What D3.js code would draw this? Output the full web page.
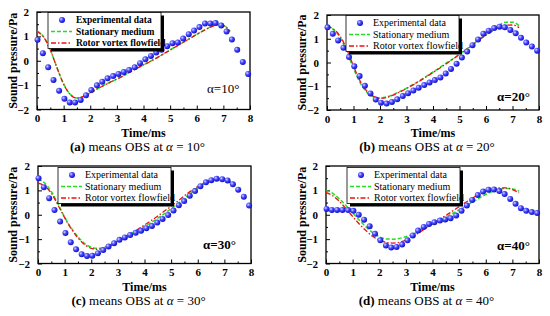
<!DOCTYPE html>
<html>
<head>
<meta charset="utf-8">
<script src="https://cdn.jsdelivr.net/npm/d3@7"></script>
<style>
  body { margin: 0; background: #fff; }
  svg { display: block; font-family: "Liberation Serif", "Times New Roman", serif; }
</style>
</head>
<body>
<div id="chart"></div>
<script>
// experimental sample times (ms), shared by all panels
var expTime = [0.02,0.22,0.42,0.62,0.83,1.03,1.23,1.43,1.64,1.84,2.04,2.25,2.45,2.65,2.86,3.06,3.26,3.46,3.67,3.87,
               4.07,4.28,4.48,4.68,4.89,5.09,5.29,5.49,5.70,5.90,6.10,6.31,6.51,6.71,6.92,7.12,7.32,7.52,7.73,7.93];
// simulation times (ms)
var simTime = [0,0.25,0.5,0.75,1.0,1.25,1.5,1.75,2.0,2.25,2.5,2.75,3.0,3.25,3.5,3.75,4.0,4.25,4.5,4.75,
               5.0,5.25,5.5,5.75,6.0,6.25,6.5,6.75,7.0,7.25];

var expA = [0.86,0.31,-0.27,-0.79,-1.23,-1.56,-1.71,-1.71,-1.61,-1.42,-1.2,-1.01,-0.86,-0.72,-0.63,-0.54,-0.46,-0.38,-0.27,-0.1,
            0.06,0.2,0.34,0.45,0.6,0.72,0.75,0.91,1.09,1.24,1.38,1.53,1.53,1.55,1.45,1.2,0.87,0.45,-0.05,-0.54];
var greenA = [1.22,0.98,0.45,-0.28,-0.95,-1.38,-1.53,-1.46,-1.32,-1.16,-1.01,-0.88,-0.75,-0.61,-0.46,-0.31,-0.17,-0.03,0.12,0.28,
              0.45,0.6,0.76,0.92,1.08,1.24,1.38,1.48,1.45,1.22];
var redA = [1.2,0.97,0.44,-0.29,-0.96,-1.39,-1.53,-1.46,-1.32,-1.16,-1.02,-0.88,-0.75,-0.61,-0.46,-0.31,-0.17,-0.03,0.12,0.28,
            0.44,0.6,0.76,0.92,1.08,1.23,1.37,1.47,1.44,1.2];

var expB = [1.48,1.21,0.93,0.62,0.23,-0.16,-0.57,-0.98,-1.3,-1.56,-1.69,-1.73,-1.66,-1.55,-1.41,-1.29,-1.18,-1.06,-0.95,-0.84,
            -0.74,-0.63,-0.46,-0.27,-0.05,0.21,0.46,0.73,0.97,1.21,1.34,1.45,1.51,1.48,1.37,1.23,1.04,0.84,0.67,0.5];
var greenB = [1.55,1.38,1.05,0.45,-0.25,-0.85,-1.25,-1.44,-1.5,-1.45,-1.35,-1.22,-1.08,-0.92,-0.76,-0.58,-0.4,-0.22,-0.03,0.15,
              0.35,0.55,0.76,0.98,1.18,1.38,1.58,1.7,1.7,1.55];
var redB = [1.52,1.4,1.1,0.55,-0.15,-0.78,-1.2,-1.42,-1.5,-1.47,-1.37,-1.24,-1.1,-0.94,-0.78,-0.6,-0.42,-0.24,-0.05,0.14,
            0.34,0.54,0.75,0.96,1.15,1.33,1.48,1.57,1.58,1.47];

var expC = [1.5,1.13,0.68,0.19,-0.28,-0.75,-1.13,-1.42,-1.62,-1.69,-1.68,-1.58,-1.45,-1.3,-1.17,-1.03,-0.93,-0.83,-0.74,-0.66,
            -0.55,-0.46,-0.32,-0.17,-0.01,0.17,0.39,0.56,0.78,0.97,1.17,1.33,1.42,1.48,1.46,1.41,1.25,1.03,0.74,0.38];
var greenC = [1.46,1.3,0.95,0.45,-0.1,-0.55,-0.9,-1.18,-1.33,-1.38,-1.33,-1.22,-1.08,-0.92,-0.77,-0.62,-0.48,-0.32,-0.14,0.05,
              0.25,0.46,0.68,0.9,1.1,1.28,1.42,1.48,1.46,1.35];
var redC = [1.3,1.18,0.88,0.4,-0.12,-0.58,-0.95,-1.22,-1.38,-1.42,-1.37,-1.25,-1.1,-0.94,-0.78,-0.6,-0.42,-0.24,-0.05,0.15,
            0.35,0.56,0.78,0.98,1.16,1.3,1.4,1.45,1.43,1.27];

var expD = [0.24,0.2,0.2,0.2,0.19,0.16,0.0,-0.2,-0.47,-0.78,-1.05,-1.26,-1.34,-1.32,-1.22,-1.05,-0.85,-0.65,-0.5,-0.38,
            -0.31,-0.24,-0.19,-0.14,-0.03,0.16,0.38,0.61,0.81,0.95,1.03,1.04,0.97,0.85,0.65,0.45,0.27,0.16,0.11,0.07];
var greenD = [0.99,0.88,0.65,0.38,0.08,-0.22,-0.5,-0.73,-0.9,-0.99,-1.0,-0.97,-0.9,-0.8,-0.67,-0.53,-0.38,-0.25,-0.1,0.05,
              0.2,0.36,0.52,0.68,0.83,0.95,1.04,1.08,1.06,0.97];
var redD = [0.92,0.78,0.55,0.25,-0.07,-0.38,-0.65,-0.88,-1.04,-1.13,-1.16,-1.13,-1.04,-0.9,-0.73,-0.55,-0.36,-0.2,-0.03,0.15,
            0.33,0.51,0.68,0.84,0.97,1.06,1.1,1.1,1.03,0.9];

var xTicks = [0,1,2,3,4,5,6,7,8];
var yTicks = [-2,-1,0,1,2];
var legendLabels = ["Experimental data", "Stationary medium", "Rotor vortex flowfield"];
var panelLetters = ["a","b","c","d"];
var angles = ["10", "20", "30", "40"];

var FONT = "'Liberation Serif', 'Times New Roman', serif";

var svg = d3.select("#chart").append("svg")
  .attr("width", 550).attr("height", 316)
  .attr("font-family", FONT);

var defs = svg.append("defs");
var grad = defs.append("radialGradient").attr("id", "ball")
  .attr("cx", "35%").attr("cy", "35%").attr("r", "65%");
grad.append("stop").attr("offset", "0%").attr("stop-color", "#d8d8ff");
grad.append("stop").attr("offset", "45%").attr("stop-color", "#4a4aff");
grad.append("stop").attr("offset", "100%").attr("stop-color", "#1010c8");

var panels = [
  {box: [37, 250, 12, 109.5], exp: expA, green: greenA, red: redA, legX: 11, legBold: true, alphaBold: false, alphaX: 207, alphaY: 93, yLabX: 13},
  {box: [327, 539, 15, 110], exp: expB, green: greenB, red: redB, legX: 19, legBold: false, alphaBold: true, alphaX: 497, alphaY: 101, yLabX: 302},
  {box: [38, 251, 166, 263.5], exp: expC, green: greenC, red: redC, legX: 20, legBold: false, alphaBold: true, alphaX: 203, alphaY: 249, yLabX: 13},
  {box: [326, 539, 166, 263.5], exp: expD, green: greenD, red: redD, legX: 21, legBold: false, alphaBold: true, alphaX: 497, alphaY: 250, yLabX: 302}
];

panels.forEach(function(p, i) {
  var x0 = p.box[0], x1 = p.box[1], y0 = p.box[2], y1 = p.box[3];
  var xScale = d3.scaleLinear().domain([0, 8]).range([x0, x1]);
  var yScale = d3.scaleLinear().domain([-2, 2]).range([y1, y0]);
  var g = svg.append("g");

  // minor ticks
  g.append("g").attr("transform", `translate(0,${y1})`)
    .call(d3.axisBottom(xScale).tickValues(d3.range(0.5, 8, 1)).tickSize(-2).tickFormat(""))
    .call(a => a.select(".domain").remove());
  g.append("g").attr("transform", `translate(${x0},0)`)
    .call(d3.axisLeft(yScale).tickValues([-1.5,-0.5,0.5,1.5]).tickSize(-2).tickFormat(""))
    .call(a => a.select(".domain").remove());

  var xAxis = g.append("g").attr("transform", `translate(0,${y1})`)
    .call(d3.axisBottom(xScale).tickValues(xTicks).tickSize(-4).tickPadding(5).tickFormat(d3.format("d")));
  var yAxis = g.append("g").attr("transform", `translate(${x0},0)`)
    .call(d3.axisLeft(yScale).tickValues(yTicks).tickSize(-4).tickPadding(8).tickFormat(d => d < 0 ? "\u2212" + (-d) : d));
  [xAxis, yAxis].forEach(function(a) {
    a.select(".domain").remove();
    a.attr("font-family", FONT).attr("font-size", 11).attr("font-weight", "bold");
    a.selectAll("text").attr("fill", "#000");
    a.selectAll("line").attr("stroke", "#000").attr("stroke-width", 1);
  });
  g.selectAll(".tick line").attr("stroke", "#000");

  // frame
  g.append("rect").attr("x", x0).attr("y", y0).attr("width", x1 - x0).attr("height", y1 - y0)
    .attr("fill", "none").attr("stroke", "#000").attr("stroke-width", 1.3);

  // simulation lines
  var line = d3.line().x((d, k) => xScale(simTime[k])).y(d => yScale(d)).curve(d3.curveMonotoneX);
  g.append("path").datum(p.green).attr("d", line)
    .attr("fill", "none").attr("stroke", "#22e022").attr("stroke-width", 1.5).attr("stroke-dasharray", "4,2");
  g.append("path").datum(p.red).attr("d", line)
    .attr("fill", "none").attr("stroke", "#ee1111").attr("stroke-width", 1.3).attr("stroke-dasharray", "5,2,1.5,2");

  // experimental points
  g.selectAll("circle.exp").data(p.exp).enter().append("circle")
    .attr("class", "exp")
    .attr("cx", (d, k) => xScale(expTime[k]))
    .attr("cy", d => yScale(d))
    .attr("r", 3)
    .attr("fill", "url(#ball)");

  // legend
  var lx = x0 + p.legX, ly = y0 + (i < 2 ? 0.5 : 1.5);
  var lw = 113, lh = 36;
  g.append("rect").attr("x", lx + 3).attr("y", ly + 3).attr("width", lw).attr("height", lh).attr("fill", "#000");
  g.append("rect").attr("x", lx).attr("y", ly).attr("width", lw).attr("height", lh)
    .attr("fill", "#fff").attr("stroke", "#000").attr("stroke-width", 0.8);
  var rows = [ly + 7.5, ly + 19, ly + 30.5];
  g.append("circle").attr("cx", lx + 14).attr("cy", rows[0]).attr("r", 3).attr("fill", "url(#ball)");
  g.append("line").attr("x1", lx + 3).attr("x2", lx + 24).attr("y1", rows[1]).attr("y2", rows[1])
    .attr("stroke", "#22e022").attr("stroke-width", 1.5).attr("stroke-dasharray", "4,2");
  g.append("line").attr("x1", lx + 3).attr("x2", lx + 24).attr("y1", rows[2]).attr("y2", rows[2])
    .attr("stroke", "#ee1111").attr("stroke-width", 1.3).attr("stroke-dasharray", "5,2,1.5,2");
  legendLabels.forEach(function(t, k) {
    g.append("text").attr("x", lx + (p.legBold ? 28 : 27)).attr("y", rows[k] + 3.3)
      .attr("font-size", p.legBold ? 9.5 : 10).attr("font-weight", p.legBold ? "bold" : "normal")
      .text(t);
  });

  // alpha label
  g.append("text").attr("x", p.alphaX).attr("y", p.alphaY)
    .attr("font-size", 13).attr("font-weight", p.alphaBold ? "bold" : "normal")
    .text("\u03b1=" + angles[i] + "\u00b0");

  // axis labels
  g.append("text").attr("x", (x0 + x1) / 2).attr("y", y1 + 27)
    .attr("text-anchor", "middle").attr("font-size", 12).attr("font-weight", "bold").text("Time/ms");
  g.append("text").attr("transform", `translate(${p.yLabX},${(y0 + y1) / 2}) rotate(-90)`)
    .attr("text-anchor", "middle").attr("dy", "0.35em")
    .attr("font-size", 12).attr("font-weight", "bold").text("Sound pressure/Pa");

  // caption
  var cap = g.append("text").attr("x", (x0 + x1) / 2 - 6).attr("y", y1 + 41)
    .attr("text-anchor", "middle").attr("font-size", 13);
  cap.append("tspan").attr("font-weight", "bold").text("(" + panelLetters[i] + ")");
  cap.append("tspan").text(" means OBS at ");
  cap.append("tspan").attr("font-style", "italic").text("\u03b1");
  cap.append("tspan").text(" = " + angles[i] + "\u00b0");
});
</script>
</body>
</html>
